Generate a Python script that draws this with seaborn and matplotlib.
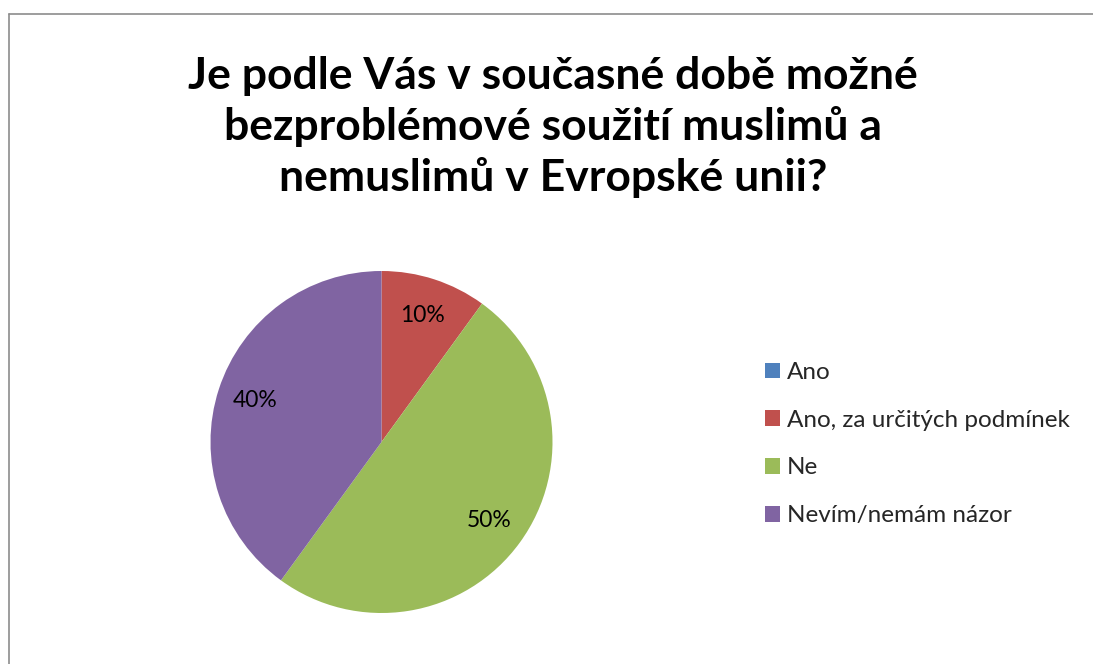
import matplotlib
matplotlib.use("Agg")
import matplotlib.pyplot as plt
import seaborn as sns
from matplotlib.patches import Patch
from matplotlib.lines import Line2D

categories = ["Ano", "Ano, za určitých podmínek", "Ne", "Nevím/nemám názor"]
values = [0, 10, 50, 40]
colors = ["#4F81BD", "#C0504D", "#9BBB59", "#8064A2"]
title = "Je podle Vás v současné době možné\nbezproblémové soužití muslimů a\nnemuslimů v Evropské unii?"

sns.set_theme(style="white")
plt.rcParams['font.family'] = ['Lato', 'DejaVu Sans']

W, H = 1093, 664
fig = plt.figure(figsize=(W / 100, H / 100), dpi=100)
fig.patch.set_facecolor("white")

# chart area border (only top and left visible in reference)
bx, by = 8.5 / W, 1 - 13.5 / H
fig.add_artist(Line2D([bx, 1.05], [by, by], transform=fig.transFigure,
                      color="#8c8c8c", linewidth=1.2))
fig.add_artist(Line2D([bx, bx], [-0.05, by], transform=fig.transFigure,
                      color="#8c8c8c", linewidth=1.2))

fig.text(553 / W, 1 - 127 / H, title, ha="center", va="center",
         fontsize=32, fontweight="bold", linespacing=1.3, color="black")

cx, cy, r = 381.5, 442, 171
ax = fig.add_axes([(cx - r) / W, (H - cy - r) / H, 2 * r / W, 2 * r / H])


def fmt(p):
    return f"{p:.0f}%" if p > 0.5 else ""


wedges, texts, autotexts = ax.pie(values, colors=colors, startangle=90,
                                  counterclock=False, autopct=fmt,
                                  pctdistance=0.78,
                                  wedgeprops=dict(linewidth=0),
                                  textprops=dict(fontsize=16.5, color="black"))
ax.set_xlim(-1, 1)
ax.set_ylim(-1, 1)
ax.set_aspect("equal")
ax.axis("off")

handles = [Patch(facecolor=c, edgecolor="none", label=l) for c, l in zip(colors, categories)]
fig.legend(handles=handles, loc="upper left",
           bbox_to_anchor=(765 / W, 1 - 362 / H), frameon=False,
           fontsize=17.5, handlelength=0.62, handleheight=0.62,
           handletextpad=0.28, labelspacing=1.1, borderaxespad=0, borderpad=0)

fig.savefig("out.png", dpi=100, facecolor="white")
